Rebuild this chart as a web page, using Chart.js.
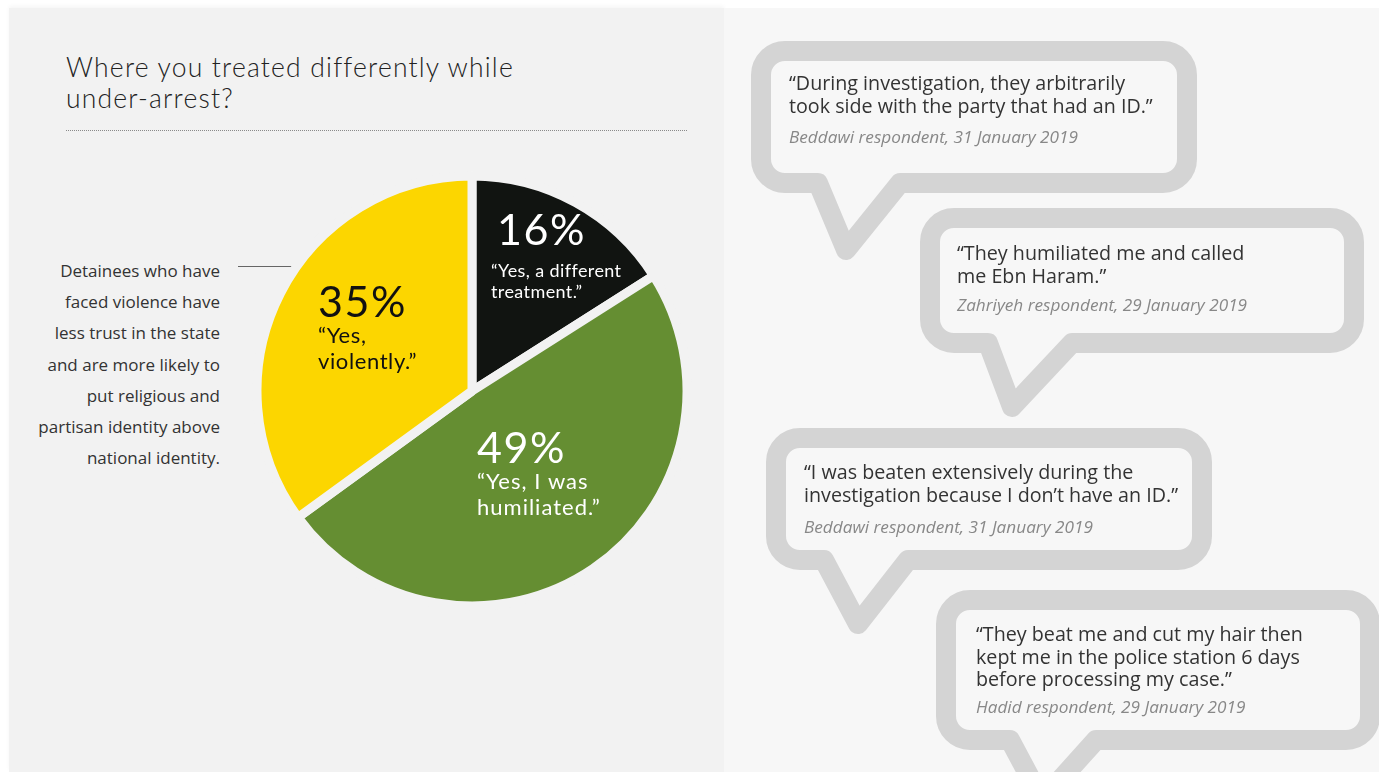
<!DOCTYPE html>
<html>
<head>
<meta charset="utf-8">
<script src="https://cdn.jsdelivr.net/npm/chart.js@4.4.0/dist/chart.umd.min.js"></script>
<style>
  body { margin: 0; width: 1379px; height: 772px; background: #fff; overflow: hidden; position: relative; font-family: 'Open Sans', sans-serif; }
  #leftPanel { position: absolute; left: 9px; top: 8px; width: 715px; height: 764px; background: #f2f2f2; box-shadow: 0 -2px 4px rgba(0,0,0,0.04); }
  #rightPanel { position: absolute; left: 724px; top: 8px; width: 655px; height: 764px; background: #f7f7f7; }
  #title { position: absolute; left: 66px; top: 52px; font-family: 'Lato', sans-serif; font-weight: 300; font-size: 26.5px; letter-spacing: 1.2px; line-height: 31px; color: #222; white-space: nowrap; }
  #rule { position: absolute; left: 66px; top: 130px; width: 621px; border-top: 1px dotted #8a8a8a; }
  #note { position: absolute; left: 10px; width: 210px; top: 255px; text-align: right; font-size: 17px; line-height: 31.2px; color: #333; }
  #connector { position: absolute; left: 238px; top: 266px; width: 66px; border-top: 1px solid #666; }
  #pieWrap { position: absolute; left: 252px; top: 171px; width: 440px; height: 440px; }
  #bubbles { position: absolute; left: 0; top: 0; }
  .quote { position: absolute; font-size: 19.7px; line-height: 22.5px; color: #333; white-space: nowrap; }
  .cite { position: absolute; font-size: 17.2px; line-height: 22px; color: #888; font-style: italic; white-space: nowrap; }
</style>
</head>
<body>
<div id="leftPanel"></div>
<div id="rightPanel"></div>
<div id="title">Where you treated differently while<br>under-arrest?</div>
<div id="rule"></div>
<div id="note"></div>
<div id="connector"></div>
<div id="pieWrap"><canvas id="pieChart" width="440" height="440"></canvas></div>
<svg id="bubbles" width="1379" height="772"></svg>

<script>
  // ===== DONNÉES =====
  const sliceValues = [16, 49, 35];
  const sliceLabels = ['16%', '49%', '35%'];
  const sliceQuotes = [
    ['\u201CYes, a different', 'treatment.\u201D'],
    ['\u201CYes, I was', 'humiliated.\u201D'],
    ['\u201CYes,', 'violently.\u201D']
  ];
  const noteLines = [
    'Detainees who have',
    'faced violence have',
    'less trust in the state',
    'and are more likely to',
    'put religious and',
    'partisan identity above',
    'national identity.'
  ];
  const bubbleQuotes = [
    ['\u201CDuring investigation, they arbitrarily', 'took side with the party that had an ID.\u201D'],
    ['\u201CThey humiliated me and called', 'me Ebn Haram.\u201D'],
    ['\u201CI was beaten extensively during the', 'investigation because I don\u2019t have an ID.\u201D'],
    ['\u201CThey beat me and cut my hair then', 'kept me in the police station 6 days', 'before processing my case.\u201D']
  ];
  const bubbleSources = [
    'Beddawi respondent, 31 January 2019',
    'Zahriyeh respondent, 29 January 2019',
    'Beddawi respondent, 31 January 2019',
    'Hadid respondent, 29 January 2019'
  ];

  const colors = {
    black: '#111411',
    green: '#658e32',
    yellow: '#fcd600',
    panel: '#f2f2f2',
    bubble: '#d4d4d4',
    bubbleFill: '#f7f7f7'
  };

  document.getElementById('note').innerHTML = noteLines.join('<br>');

  // ===== BULLES =====
  // [x1, y1, x2, y2, queue gauche, pointe x, pointe y, queue droite]
  const bubbleBoxes = [
    [761, 51, 1187, 183, 818, 846, 250, 900],
    [930, 218, 1354, 343, 988, 1012, 407, 1072],
    [776, 438, 1202, 560, 824, 858, 624, 908],
    [946, 600, 1370, 740, 1010, 1042, 800, 1096]
  ];
  const textPos = [
    [789, 72, 126],
    [957, 242, 294],
    [804, 461, 516],
    [976, 623, 696]
  ];

  function bubblePath(b) {
    const [x1, y1, x2, y2, t1, tx, ty, t2] = b;
    const r = 24;
    return `M${x1 + r},${y1} H${x2 - r} A${r},${r} 0 0 1 ${x2},${y1 + r} V${y2 - r} A${r},${r} 0 0 1 ${x2 - r},${y2} ` +
      `H${t2} L${tx},${ty} L${t1},${y2} H${x1 + r} A${r},${r} 0 0 1 ${x1},${y2 - r} V${y1 + r} A${r},${r} 0 0 1 ${x1 + r},${y1} Z`;
  }

  const svg = document.getElementById('bubbles');
  bubbleBoxes.forEach(function(b, i) {
    const p = document.createElementNS('http://www.w3.org/2000/svg', 'path');
    p.setAttribute('d', bubblePath(b));
    p.setAttribute('fill', colors.bubbleFill);
    p.setAttribute('stroke', colors.bubble);
    p.setAttribute('stroke-width', '20');
    p.setAttribute('stroke-linejoin', 'round');
    svg.appendChild(p);

    const q = document.createElement('div');
    q.className = 'quote';
    q.style.left = textPos[i][0] + 'px';
    q.style.top = textPos[i][1] + 'px';
    q.innerHTML = bubbleQuotes[i].join('<br>');
    document.body.appendChild(q);

    const c = document.createElement('div');
    c.className = 'cite';
    c.style.left = textPos[i][0] + 'px';
    c.style.top = textPos[i][2] + 'px';
    c.textContent = bubbleSources[i];
    document.body.appendChild(c);
  });

  // ===== ÉTIQUETTES DU CAMEMBERT =====
  // décalages par rapport au centre, pour un rayon visible de 211px
  const labelLayout = [
    { color: '#fff', pct: [25, -146], lines: [[19, -114], [19, -93]], size: 18, ls: '0.4px' },
    { color: '#fff', pct: [5, 72], lines: [[5, 98], [5, 124]], size: 22, ls: '1px' },
    { color: '#111', pct: [-154, -74], lines: [[-154, -48], [-154, -22]], size: 22, ls: '0.6px' }
  ];

  const pieLabels = {
    id: 'pieLabels',
    afterDatasetsDraw(chart) {
      const ctx = chart.ctx;
      const arcs = chart.getDatasetMeta(0).data;
      arcs.forEach(function(arc, i) {
        const k = (arc.outerRadius - 4) / 211;
        const L = labelLayout[i];
        ctx.save();
        ctx.fillStyle = L.color;
        ctx.textAlign = 'left';
        ctx.textBaseline = 'alphabetic';
        ctx.letterSpacing = '1.5px';
        ctx.font = "400 43px 'Lato', sans-serif";
        ctx.fillText(sliceLabels[i], arc.x + L.pct[0] * k, arc.y + L.pct[1] * k);
        ctx.letterSpacing = L.ls;
        ctx.font = "400 " + L.size + "px 'Lato', sans-serif";
        sliceQuotes[i].forEach(function(line, j) {
          ctx.fillText(line, arc.x + L.lines[j][0] * k, arc.y + L.lines[j][1] * k);
        });
        ctx.restore();
      });
    }
  };

  new Chart(document.getElementById('pieChart'), {
    type: 'pie',
    data: {
      labels: sliceLabels,
      datasets: [{
        data: sliceValues,
        backgroundColor: [colors.black, colors.green, colors.yellow],
        borderColor: colors.panel,
        borderWidth: 9,
        hoverOffset: 0
      }]
    },
    options: {
      responsive: false,
      animation: false,
      radius: 215,
      layout: { padding: 0 },
      plugins: {
        legend: { display: false },
        tooltip: { enabled: false }
      }
    },
    plugins: [pieLabels]
  });
</script>
</body>
</html>
